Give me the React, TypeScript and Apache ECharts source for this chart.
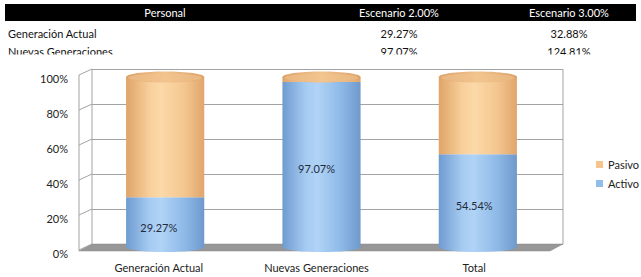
import React, { useEffect, useRef } from "react";
import * as echarts from "echarts";

const categories = ["Generación Actual", "Nuevas Generaciones", "Total"];
const activo = [29.27, 97.07, 54.54];
const pasivo = [70.73, 2.93, 45.46];
const yTicks = [0, 20, 40, 60, 80, 100];

const tableHeader = ["Personal", "Escenario 2.00%", "Escenario 3.00%"];
const tableRows = ["Generación Actual", "Nuevas Generaciones"];
const esc2 = ["29.27%", "97.07%"];
const esc3 = ["32.88%", "124.81%"];

const FONT = "Lato";
const FS = 11;
const DX = -13;
const DY = 7;
const WALL = "#a3a3a3";

const blueGrad = () =>
  new echarts.graphic.LinearGradient(0, 0, 1, 0, [
    { offset: 0, color: "#6f9bd0" },
    { offset: 0.3, color: "#a6cbf2" },
    { offset: 0.45, color: "#b0d3f6" },
    { offset: 0.75, color: "#8db9e7" },
    { offset: 1, color: "#6f99cc" },
  ]);
const tanGrad = () =>
  new echarts.graphic.LinearGradient(0, 0, 1, 0, [
    { offset: 0, color: "#dfa468" },
    { offset: 0.3, color: "#f8cf9b" },
    { offset: 0.45, color: "#fcd9a8" },
    { offset: 0.75, color: "#f4c68f" },
    { offset: 1, color: "#e0a56c" },
  ]);
const tanTopGrad = () =>
  new echarts.graphic.LinearGradient(0, 0, 1, 0, [
    { offset: 0, color: "#dba068" },
    { offset: 0.5, color: "#f3c48d" },
    { offset: 1, color: "#dba068" },
  ]);

export default function App() {
  const ref = useRef<HTMLDivElement>(null);
  useEffect(() => {
    const chart = echarts.init(ref.current!, null, { renderer: "svg" });
    const colX = [165, 399, 569];
    const graphic: any[] = [
      { type: "rect", shape: { x: 5, y: 4, width: 631, height: 17 }, style: { fill: "#000" }, z: 10 },
      ...tableHeader.map((t, i) => ({
        type: "text",
        x: colX[i],
        y: 12.5,
        style: { text: t, fill: "#fff", font: `${FS}px ${FONT}`, align: "center", verticalAlign: "middle" },
        z: 11,
      })),
    ];
    tableRows.forEach((r, k) => {
      const y = 33 + k * 18.5;
      const st = (t: string, align: string) => ({
        text: t,
        fill: "#111",
        font: `${FS}px ${FONT}`,
        align,
        verticalAlign: "middle",
      });
      graphic.push({ type: "text", x: 8, y, style: st(r, "left"), z: 11 });
      graphic.push({ type: "text", x: colX[1], y, style: st(esc2[k], "center"), z: 11 });
      graphic.push({ type: "text", x: colX[2], y, style: st(esc3[k], "center"), z: 11 });
    });
    graphic.push({ type: "rect", shape: { x: 0, y: 54.5, width: 641, height: 10 }, style: { fill: "#fff" }, z: 12 });

    const option: any = {
      animation: false,
      backgroundColor: "#fff",
      graphic,
      legend: {
        orient: "vertical",
        left: 591,
        top: 154,
        itemWidth: 7,
        itemHeight: 7,
        itemGap: 8,
        icon: "rect",
        data: ["Pasivo", "Activo"],
        textStyle: { fontFamily: FONT, fontSize: FS, color: "#222" },
      },
      grid: [
        { left: 92, right: 78, top: 69, bottom: 33 },
        { left: 87, right: 85, top: 77, bottom: 30 },
        { left: 80, right: 88, top: 78, bottom: 24 },
      ],
      xAxis: [
        { gridIndex: 0, type: "value", min: 0, max: 3, show: false },
        { gridIndex: 1, type: "category", data: categories, show: false },
        {
          gridIndex: 2,
          type: "category",
          data: categories,
          axisLine: { show: false },
          axisTick: { show: false },
          axisLabel: { fontFamily: FONT, fontSize: FS, color: "#222", margin: 9 },
        },
      ],
      yAxis: [
        {
          gridIndex: 0,
          type: "value",
          min: 0,
          max: 100,
          interval: 20,
          axisLabel: { show: false },
          axisLine: { show: false },
          axisTick: { show: false },
          splitLine: { show: true, lineStyle: { color: WALL, width: 1 } },
        },
        { gridIndex: 1, type: "value", min: 0, max: 100, show: false },
        {
          gridIndex: 2,
          type: "value",
          min: 0,
          max: 100,
          interval: 20,
          axisLine: { show: false },
          axisTick: { show: false },
          splitLine: { show: false },
          axisLabel: { formatter: "{value}%", fontFamily: FONT, fontSize: FS, color: "#222", margin: 12 },
        },
      ],
      series: [
        {
          type: "custom",
          name: "floor",
          xAxisIndex: 0,
          yAxisIndex: 0,
          data: [[0]],
          z: 1,
          renderItem: (params: any, api: any) => {
            const bl = api.coord([0, 0]);
            const br = api.coord([3, 0]);
            const tl = api.coord([0, 100]);
            const tr = api.coord([3, 100]);
            const children: any[] = [
              {
                type: "polygon",
                shape: { points: [bl, br, [br[0] + DX, br[1] + DY], [bl[0] + DX, bl[1] + DY]] },
                style: { fill: "#979797", stroke: "#8a8a8a", lineWidth: 0.5 },
              },
              { type: "line", shape: { x1: bl[0], y1: bl[1], x2: tl[0], y2: tl[1] }, style: { stroke: WALL, lineWidth: 1 } },
              { type: "line", shape: { x1: br[0], y1: br[1], x2: tr[0], y2: tr[1] }, style: { stroke: WALL, lineWidth: 1 } },
              {
                type: "line",
                shape: { x1: bl[0] + DX, y1: bl[1] + DY, x2: tl[0] + DX, y2: tl[1] + DY - 1 },
                style: { stroke: WALL, lineWidth: 1 },
              },
            ];
            return { type: "group", children };
          },
        },
        {
          type: "custom",
          name: "wall",
          xAxisIndex: 0,
          yAxisIndex: 0,
          data: yTicks.map((v) => [0, v]),
          z: 1,
          renderItem: (params: any, api: any) => {
            const p = api.coord([0, api.value(1)]);
            return {
              type: "line",
              shape: { x1: p[0], y1: p[1], x2: p[0] + DX, y2: p[1] + DY - 1 },
              style: { stroke: WALL, lineWidth: 1 },
            };
          },
        },
        {
          type: "custom",
          name: "Activo",
          xAxisIndex: 1,
          yAxisIndex: 1,
          itemStyle: { color: "#92bde9" },
          data: activo.map((v, i) => [i, v]),
          z: 2,
          renderItem: (params: any, api: any) => {
            const i = api.value(0);
            const v = api.value(1);
            const p0 = api.coord([i, 0]);
            const pv = api.coord([i, v]);
            const w = api.size([1, 0])[0] * 0.5;
            const rx = w / 2;
            return {
              type: "group",
              children: [
                { type: "ellipse", shape: { cx: p0[0], cy: p0[1], rx, ry: 5 }, style: { fill: blueGrad() } },
                { type: "rect", shape: { x: p0[0] - rx, y: pv[1], width: w, height: p0[1] - pv[1] }, style: { fill: blueGrad() } },
              ],
            };
          },
        },
        {
          type: "custom",
          name: "Pasivo",
          xAxisIndex: 1,
          yAxisIndex: 1,
          itemStyle: { color: "#f7c48c" },
          data: pasivo.map((v, i) => [i, v, activo[i]]),
          z: 3,
          renderItem: (params: any, api: any) => {
            const i = api.value(0);
            const v = api.value(1);
            const base = api.value(2);
            const pb = api.coord([i, base]);
            const pt = api.coord([i, base + v]);
            const w = api.size([1, 0])[0] * 0.5;
            const rx = w / 2;
            return {
              type: "group",
              children: [
                { type: "rect", shape: { x: pb[0] - rx, y: pt[1], width: w, height: pb[1] - pt[1] }, style: { fill: tanGrad() } },
                { type: "ellipse", shape: { cx: pt[0], cy: pt[1], rx, ry: 5.5 }, style: { fill: tanTopGrad() } },
                { type: "ellipse", shape: { cx: pt[0], cy: pt[1] + 0.8, rx: rx - 2, ry: 4.2 }, style: { fill: "#f1c48f", opacity: 0.6 } },
              ],
            };
          },
        },
        {
          type: "custom",
          name: "labels",
          xAxisIndex: 2,
          yAxisIndex: 2,
          data: activo.map((v, i) => [i, v]),
          z: 5,
          renderItem: (params: any, api: any) => {
            const i = api.value(0);
            const v = api.value(1);
            const p = api.coord([i, v / 2]);
            return {
              type: "text",
              x: p[0],
              y: p[1],
              style: {
                text: v.toFixed(2) + "%",
                fill: "#1f2a3a",
                font: `${FS}px ${FONT}`,
                align: "center",
                verticalAlign: "middle",
              },
            };
          },
        },
      ],
    };
    chart.setOption(option);
    return () => chart.dispose();
  }, []);
  return <div ref={ref} style={{ position: "fixed", left: 0, top: 0, width: 641, height: 277 }} />;
}
